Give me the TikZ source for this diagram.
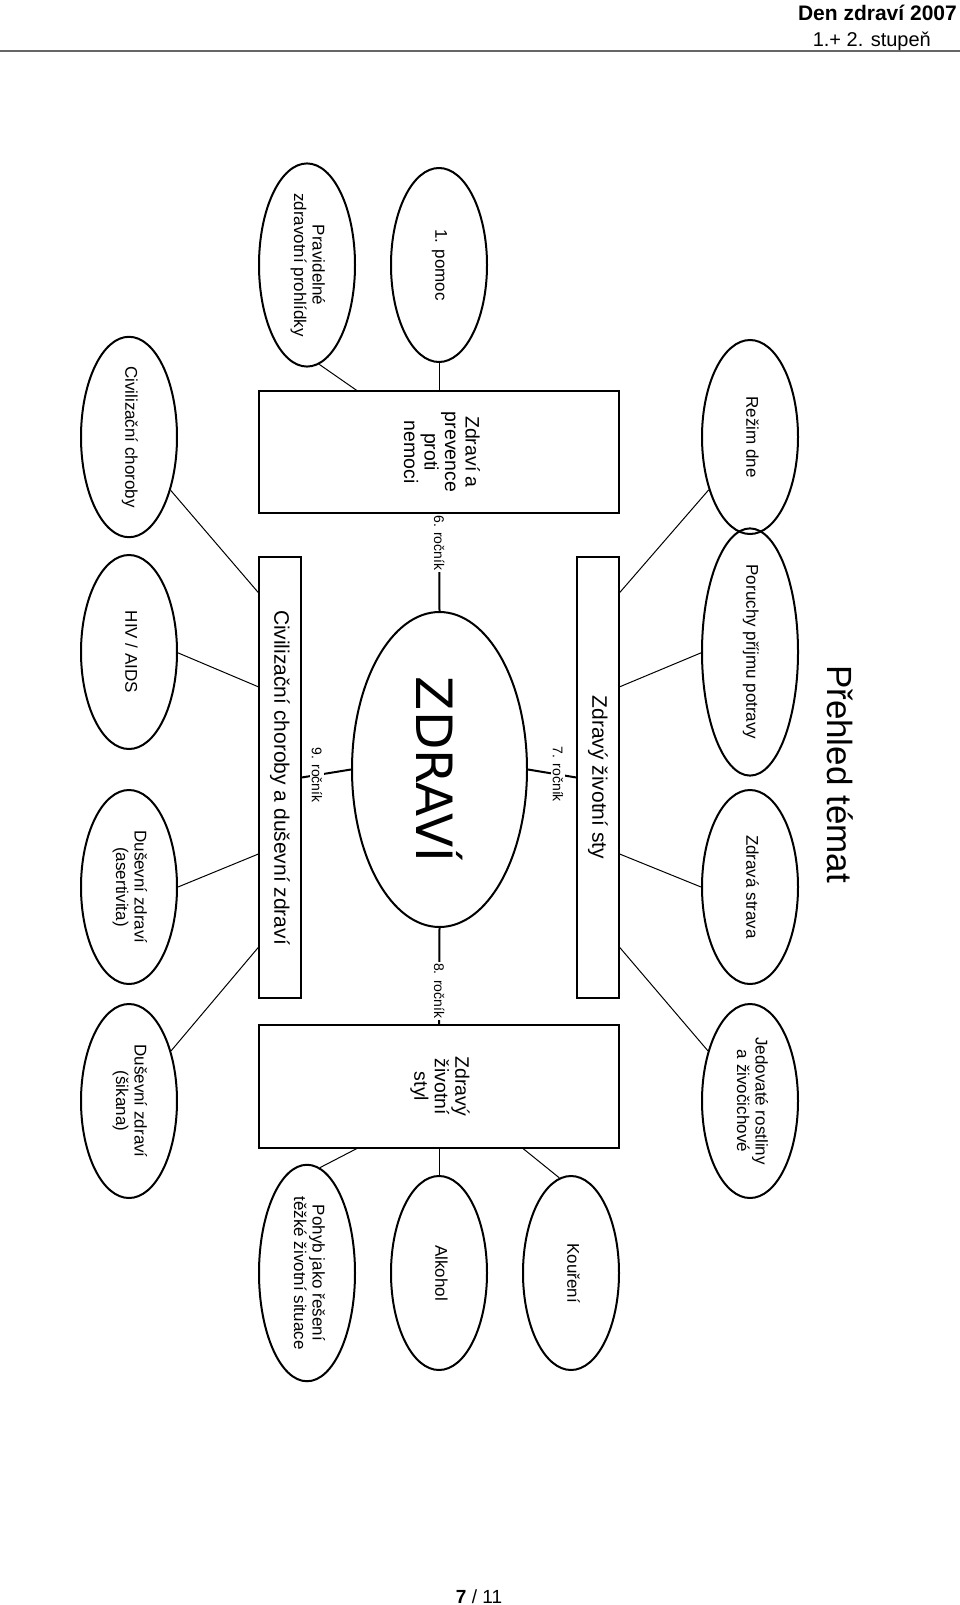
\documentclass[tikz,border=0pt]{standalone}
\usepackage{fontspec}
\setmainfont{Liberation Sans}
\newfontfamily\zfont{DejaVu Sans}
\usepackage{graphicx}
\usetikzlibrary{shapes.geometric,calc}
\newcommand\rtxt[1]{\rotatebox{-90}{\begin{tabular}{@{}c@{}}#1\end{tabular}}}
\begin{document}
\begin{tikzpicture}[x=1pt,y=-1pt,
  topic/.style={ellipse, draw, line width=2pt, minimum width=96pt, minimum height=194pt, inner sep=0pt, font=\fontsize{17}{18.5}\selectfont},
  box/.style={rectangle, draw, line width=1.3pt, inner sep=0pt},
  conn/.style={line width=1pt},
  grade/.style={line width=2pt},
  glabel/.style={fill=white, inner sep=1.5pt, rotate=-90, font=\fontsize{14}{16}\selectfont},
]
\fill[white] (0,0) rectangle (960,1605);
\useasboundingbox (0,0) rectangle (960,1605);

% header
\node[anchor=east, inner sep=0pt, font=\fontsize{21}{24}\selectfont\bfseries] (hdr1) at (957,13) {Den zdraví 2007};
\node[anchor=east, inner sep=0pt, font=\fontsize{20}{24}\selectfont] (hdr2) at (931,41) {1.+ 2. stupeň};
\coordinate (rl) at (0,51);
\coordinate (rr) at (960,51);
\draw[line width=2pt, black!60] (rl) -- (rr);

% title
\node[rotate=-90, inner sep=0pt, font=\fontsize{35}{40}\selectfont] (title) at (840,774) {Přehled témat};

% boxes
\node[box, minimum width=360pt, minimum height=122pt] (prev) at (439,452)
  {\fontsize{19.5}{20.5}\selectfont\rtxt{Zdraví a\\prevence\\proti\\nemoci}};
\node[box, minimum width=360pt, minimum height=123pt] (styl) at (439,1086.5)
  {\fontsize{19.5}{20.5}\selectfont\rtxt{Zdravý\\životní\\styl}};
\node[box, minimum width=42pt, minimum height=441pt] (civr) at (280,777.5)
  {\fontsize{21}{24}\selectfont\rotatebox{-90}{Civilizační choroby a duševní zdraví}};
\node[box, minimum width=42pt, minimum height=441pt] (zzs) at (598,777.5)
  {\fontsize{21}{24}\selectfont\rotatebox{-90}{Zdravý životní sty}};

% centre
\node[ellipse, draw, line width=2pt, minimum width=175pt, minimum height=315pt, inner sep=0pt] (zdravi) at (439.5,769.5)
  {\zfont\fontsize{50}{60}\selectfont\rotatebox{-90}{ZDRAVÍ}};

% topics
\node[topic] (prav) at (307,265) {\rtxt{Pravidelné\\zdravotní prohlídky}};
\node[topic] (pomoc) at (439,265) {\rtxt{1. pomoc}};
\node[topic] (civ) at (129,437) {\rtxt{Civilizační choroby}};
\node[topic] (hiv) at (129,652) {\rtxt{HIV / AIDS}};
\node[topic] (aser) at (129,887) {\rtxt{Duševní zdraví\\(asertivita)}};
\node[topic] (sik) at (129,1101) {\rtxt{Duševní zdraví\\(šikana)}};
\node[topic] (rezim) at (750,437) {\rtxt{Režim dne}};
\node[topic] (poruchy) at (750,652) {\rtxt{Poruchy příjmu potravy}};
\node[topic] (strava) at (750,887) {\rtxt{Zdravá strava}};
\node[topic] (jed) at (750,1101) {\rtxt{Jedovaté rostliny\\a živočichové}};
\node[topic] (pohyb) at (307,1273) {\rtxt{Pohyb jako řešení\\těžké životní situace}};
\node[topic] (alk) at (439,1273) {\rtxt{Alkohol}};
\node[topic] (kour) at (571,1273) {\rtxt{Kouření}};

% page number
\node[anchor=base, inner sep=0pt, font=\fontsize{19}{22}\selectfont] (pg) at (479,1603) {\textbf{7} / 11};

% connectors
\draw[conn] (prav.-83) -- ($(prev.north west)!0.272!(prev.north east)$);
\draw[conn] (pomoc.south) -- (prev.north);
\draw[conn] (civ.-52) -- ($(civr.north west)!0.082!(civr.south west)$);
\draw[conn] (hiv.-1) -- ($(civr.north west)!0.295!(civr.south west)$);
\draw[conn] (aser.0) -- ($(civr.north west)!0.673!(civr.south west)$);
\draw[conn] (sik.50) -- ($(civr.north west)!0.884!(civr.south west)$);
\draw[conn] (rezim.-128) -- ($(zzs.north east)!0.082!(zzs.south east)$);
\draw[conn] (poruchy.181) -- ($(zzs.north east)!0.295!(zzs.south east)$);
\draw[conn] (strava.180) -- ($(zzs.north east)!0.673!(zzs.south east)$);
\draw[conn] (jed.130) -- ($(zzs.north east)!0.884!(zzs.south east)$);
\draw[conn] (pohyb.83) -- ($(styl.south west)!0.272!(styl.south east)$);
\draw[conn] (alk.north) -- (styl.south);
\draw[conn] (kour.97) -- ($(styl.south west)!0.733!(styl.south east)$);

% grades
\draw[grade] (prev.south) -- node[glabel, pos=0.3] (l6) {6. ročník} (zdravi.north);
\draw[grade] (zzs.west) -- node[glabel, pos=0.38] (l7) {7. ročník} (zdravi.east);
\draw[grade] (styl.north) -- node[glabel, pos=0.35] (l8) {8. ročník} (zdravi.south);
\draw[grade] (civr.east) -- node[glabel, pos=0.31] (l9) {9. ročník} (zdravi.west);
\end{tikzpicture}
\end{document}
